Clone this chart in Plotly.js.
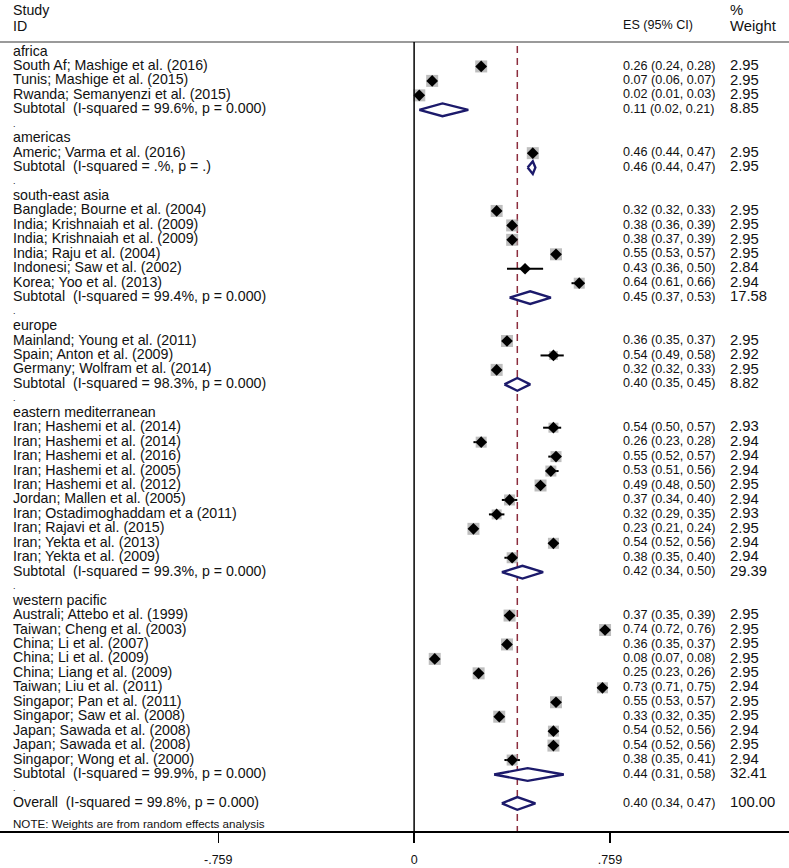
<!DOCTYPE html>
<html>
<head>
<meta charset="utf-8">
<script src="https://cdn.plot.ly/plotly-3.0.1.min.js"></script>
<style>html,body{margin:0;padding:0;background:#fff;}#chart{width:789px;height:868px;}</style>
</head>
<body>
<div id="chart"></div>
<script>
// ---------------- DATA ----------------
const groupNames = ["africa", "americas", "south-east asia", "europe", "eastern mediterranean", "western pacific"];

const studyNames = [
  "South Af; Mashige et al. (2016)",
  "Tunis; Mashige et al. (2015)",
  "Rwanda; Semanyenzi et al. (2015)",
  "Americ; Varma et al. (2016)",
  "Banglade; Bourne et al. (2004)",
  "India; Krishnaiah et al. (2009)",
  "India; Krishnaiah et al. (2009)",
  "India; Raju et al. (2004)",
  "Indonesi; Saw et al. (2002)",
  "Korea; Yoo et al. (2013)",
  "Mainland; Young et al. (2011)",
  "Spain; Anton et al. (2009)",
  "Germany; Wolfram et al. (2014)",
  "Iran; Hashemi et al. (2014)",
  "Iran; Hashemi et al. (2014)",
  "Iran; Hashemi et al. (2016)",
  "Iran; Hashemi et al. (2005)",
  "Iran; Hashemi et al. (2012)",
  "Jordan; Mallen et al. (2005)",
  "Iran; Ostadimoghaddam et a (2011)",
  "Iran; Rajavi et al. (2015)",
  "Iran; Yekta et al. (2013)",
  "Iran; Yekta et al. (2009)",
  "Australi; Attebo et al. (1999)",
  "Taiwan; Cheng et al. (2003)",
  "China; Li et al. (2007)",
  "China; Li et al. (2009)",
  "China; Liang et al. (2009)",
  "Taiwan; Liu et al. (2011)",
  "Singapor; Pan et al. (2011)",
  "Singapor; Saw et al. (2008)",
  "Japan; Sawada et al. (2008)",
  "Japan; Sawada et al. (2008)",
  "Singapor; Wong et al. (2000)"
];
const studyGroup = [0,0,0, 1, 2,2,2,2,2,2, 3,3,3, 4,4,4,4,4,4,4,4,4,4, 5,5,5,5,5,5,5,5,5,5,5];
const studyES = [0.26,0.07,0.02, 0.46, 0.32,0.38,0.38,0.55,0.43,0.64, 0.36,0.54,0.32,
  0.54,0.26,0.55,0.53,0.49,0.37,0.32,0.23,0.54,0.38,
  0.37,0.74,0.36,0.08,0.25,0.73,0.55,0.33,0.54,0.54,0.38];
const studyLo = [0.24,0.06,0.01, 0.44, 0.32,0.36,0.37,0.53,0.36,0.61, 0.35,0.49,0.32,
  0.50,0.23,0.52,0.51,0.48,0.34,0.29,0.21,0.52,0.35,
  0.35,0.72,0.35,0.07,0.23,0.71,0.53,0.32,0.52,0.52,0.35];
const studyHi = [0.28,0.07,0.03, 0.47, 0.33,0.39,0.39,0.57,0.50,0.66, 0.37,0.58,0.33,
  0.57,0.28,0.57,0.56,0.50,0.40,0.35,0.24,0.56,0.40,
  0.39,0.76,0.37,0.08,0.26,0.75,0.57,0.35,0.56,0.56,0.41];
const studyWt = [2.95,2.95,2.95, 2.95, 2.95,2.95,2.95,2.95,2.84,2.94, 2.95,2.92,2.95,
  2.93,2.94,2.94,2.94,2.95,2.94,2.93,2.95,2.94,2.94,
  2.95,2.95,2.95,2.95,2.95,2.94,2.95,2.95,2.94,2.95,2.94];

const subNames = [
  "Subtotal  (I-squared = 99.6%, p = 0.000)",
  "Subtotal  (I-squared = .%, p = .)",
  "Subtotal  (I-squared = 99.4%, p = 0.000)",
  "Subtotal  (I-squared = 98.3%, p = 0.000)",
  "Subtotal  (I-squared = 99.3%, p = 0.000)",
  "Subtotal  (I-squared = 99.9%, p = 0.000)"
];
const subES = [0.11, 0.46, 0.45, 0.40, 0.42, 0.44];
const subLo = [0.02, 0.44, 0.37, 0.35, 0.34, 0.31];
const subHi = [0.21, 0.47, 0.53, 0.45, 0.50, 0.58];
const subWt = [8.85, 2.95, 17.58, 8.82, 29.39, 32.41];

const overallName = "Overall  (I-squared = 99.8%, p = 0.000)";
const overallES = 0.40, overallLo = 0.34, overallHi = 0.47, overallWt = 100.00;
const noteText = "NOTE: Weights are from random effects analysis";

const xTickVals = [-0.759, 0, 0.759];
const xTickText = ["-.759", "0", ".759"];

// ---------------- LAYOUT HELPERS ----------------
const W = 789, HT = 868;
const X_RANGE = [-1.605, 1.453];
const ROW_PX = 14.45, ROW0_PX = 52;            // pixel placement of row 0 and row pitch
const yAt = py => (py - ROW0_PX) / ROW_PX;      // pixel -> row coordinate
const Y_RANGE = [yAt(831), yAt(0)];             // plot area from top of page to axis line
const xAt = px => X_RANGE[0] + px / W * (X_RANGE[1] - X_RANGE[0]);
const FONT = '"Liberation Sans", Arial, Helvetica, sans-serif';
const fmtCI = (e, l, h) => e.toFixed(2) + " (" + l.toFixed(2) + ", " + h.toFixed(2) + ")";
const nbsp = s => s.replace(/  /g, "\u00a0 ");

// ---------------- BUILD ROWS ----------------
const labT = [], labY = [];
const dotY = [];
const esT = [], esY = [], wtT = [], wtY = [];
const ciX = [], ciY = [];
const sqX = [], sqY = [], sqS = [];
const dmX = [], dmY = [];
const polyX = [], polyY = [];
const DH = 0.44;

function rightTexts(e, l, h, w, row) {
  esT.push(fmtCI(e, l, h)); esY.push(row);
  wtT.push(w.toFixed(2)); wtY.push(row);
}
function addDiamond(e, l, h, row) {
  polyX.push(l, e, h, e, l, null);
  polyY.push(row, row - DH, row, row + DH, row, null);
}

let r = 0;
groupNames.forEach((g, gi) => {
  labT.push(g); labY.push(r); r++;
  studyNames.forEach((s, si) => {
    if (studyGroup[si] !== gi) return;
    labT.push(s); labY.push(r);
    rightTexts(studyES[si], studyLo[si], studyHi[si], studyWt[si], r);
    ciX.push(studyLo[si], studyHi[si], null); ciY.push(r, r, null);
    sqX.push(studyES[si]); sqY.push(r);
    sqS.push(Math.max(0, 12 - (2.95 - studyWt[si]) * 100));
    dmX.push(studyES[si]); dmY.push(r);
    r++;
  });
  labT.push(nbsp(subNames[gi])); labY.push(r);
  rightTexts(subES[gi], subLo[gi], subHi[gi], subWt[gi], r);
  addDiamond(subES[gi], subLo[gi], subHi[gi], r);
  r++;
  dotY.push(r); r++;
});
labT.push(nbsp(overallName)); labY.push(r);
rightTexts(overallES, overallLo, overallHi, overallWt, r);
addDiamond(overallES, overallLo, overallHi, r);

// ---------------- TRACES ----------------
const txt = (xpx, ys, ts, size) => ({type: 'scatter', mode: 'text', x: ys.map(() => xAt(xpx)), y: ys, text: ts,
  textposition: 'middle right', textfont: {family: FONT, size: size, color: '#111'}, cliponaxis: false, hoverinfo: 'skip'});

const traces = [
  {type: 'scatter', mode: 'lines', x: ciX, y: ciY, line: {color: '#000', width: 2}, hoverinfo: 'skip'},
  {type: 'scatter', mode: 'markers', x: sqX, y: sqY, marker: {symbol: 'square', size: sqS, color: '#a2a2a2', line: {width: 0}}, hoverinfo: 'skip'},
  {type: 'scatter', mode: 'markers', x: dmX, y: dmY, marker: {symbol: 'diamond', size: 9, color: '#000', line: {width: 0}}, hoverinfo: 'skip'},
  {type: 'scatter', mode: 'lines', x: polyX, y: polyY, fill: 'toself', fillcolor: 'rgba(255,255,255,1)',
   line: {color: '#1c1a6b', width: 2.4}, hoverinfo: 'skip'},
  txt(13, labY, labT, 14.2),
  txt(13, dotY, dotY.map(() => "."), 9),
  txt(623, esY, esT, 12.6),
  txt(730, wtY, wtT, 14.8),
  // headers & note
  txt(13, [yAt(11), yAt(27)], ["Study", "ID"], 14.2),
  txt(730, [yAt(11), yAt(27)], ["%", "Weight"], 14.8),
  txt(623, [yAt(26)], ["ES (95% CI)"], 12.6),
  txt(13, [yAt(825)], [nbsp(noteText)], 11.6)
];

const layout = {
  width: W, height: HT,
  margin: {l: 0, r: 0, t: 0, b: 37, pad: 0},
  paper_bgcolor: '#fff', plot_bgcolor: '#fff',
  showlegend: false,
  xaxis: {range: X_RANGE, showgrid: false, zeroline: false, showline: true, linecolor: '#000', linewidth: 1.5,
    ticks: 'outside', ticklen: 10, tickwidth: 1.5, tickcolor: '#000', tickvals: xTickVals, ticktext: xTickText,
    tickfont: {family: FONT, size: 12.5, color: '#111'}, ticklabelstandoff: 6, fixedrange: true},
  yaxis: {range: Y_RANGE, visible: false, fixedrange: true},
  shapes: [
    {type: 'line', xref: 'paper', yref: 'y', x0: 0, x1: 1, y0: yAt(42), y1: yAt(42), line: {color: '#9a9a9a', width: 2}},
    {type: 'line', xref: 'x', yref: 'y', x0: 0, x1: 0, y0: yAt(42), y1: yAt(831), line: {color: '#000', width: 1.5}},
    {type: 'line', xref: 'x', yref: 'y', x0: overallES, x1: overallES, y0: yAt(46), y1: yAt(831), layer: 'below',
     line: {color: '#8c2d3e', width: 1.5, dash: '7px,5px'}}
  ]
};

Plotly.newPlot('chart', traces, layout, {staticPlot: true, displayModeBar: false});
</script>
</body>
</html>
